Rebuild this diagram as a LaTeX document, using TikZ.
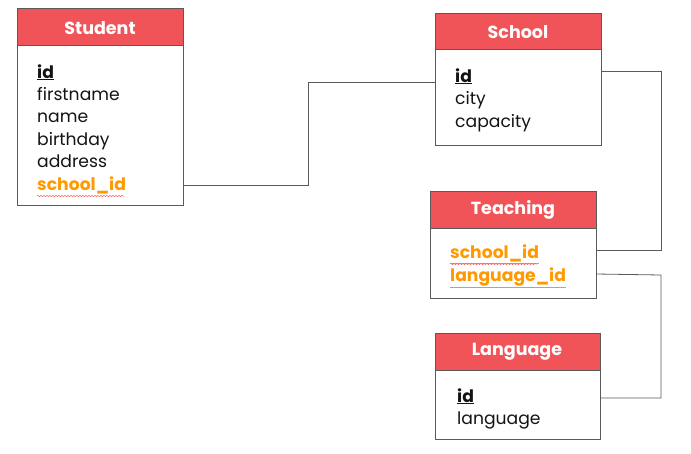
\documentclass[tikz,border=0pt]{standalone}
\usepackage{fontspec}
\setmainfont{Poppins}
\usetikzlibrary{decorations.pathmorphing}
\definecolor{hdr}{RGB}{240,84,89}
\definecolor{fk}{RGB}{255,153,0}
\definecolor{edge}{RGB}{90,90,90}
\definecolor{txt}{RGB}{20,20,20}
\tikzset{
  box/.style={draw=edge, line width=1pt, fill=white},
  head/.style={draw=edge, line width=1pt, fill=hdr},
  title/.style={text=white, font=\fontsize{17.5}{17.5}\selectfont\bfseries, anchor=center},
  field/.style={text=txt, font=\fontsize{17.2}{17.2}\selectfont, anchor=base west, inner sep=0pt},
  fkfield/.style={field, text=fk, font=\fontsize{17.2}{17.2}\selectfont\bfseries},
  link/.style={draw=edge, line width=0.8pt},
  squiggle/.style={draw=red!60, line width=0.5pt, decorate, decoration={snake, amplitude=0.7pt, segment length=3pt}}
}
\begin{document}
\begin{tikzpicture}[x=1pt,y=-1pt]
\useasboundingbox[fill=white] (0,0) rectangle (691,453);
% Student
\draw[box] (17,45) rectangle (183,205);
\draw[head] (17,8) rectangle (183,45);
\node[title] (studentT) at (100,28) {Student};
\node[field] (s1) at (37,78) {\textbf{\underline{id}}};
\node[field] (s2) at (37,100) {firstname};
\node[field] (s3) at (37,122) {name};
\node[field] (s4) at (37,145) {birthday};
\node[field] (s5) at (37,167) {address};
\node[fkfield] (s6) at (37,190) {school\_id};
\draw[squiggle] (37,196) -- (124,196);
\coordinate (sR) at (183,185);
% School
\draw[box] (435,49) rectangle (601,145);
\draw[head] (435,13) rectangle (601,49);
\node[title] (schoolT) at (518,32) {School};
\node[field] (c1) at (455,82) {\textbf{\underline{id}}};
\node[field] (c2) at (455,104) {city};
\node[field] (c3) at (455,127) {capacity};
\coordinate (cL) at (435,82);
\coordinate (cR) at (601,71);
% Teaching
\draw[box] (430,228) rectangle (596,298);
\draw[head] (430,191) rectangle (596,228);
\node[title] (teachT) at (513,210) {Teaching};
\node[fkfield] (t1) at (450,258) {\underline{school\_id}};
\node[fkfield] (t2) at (450,281) {\underline{language\_id}};
\draw[squiggle] (450,264) -- (537,264);
\coordinate (tR1) at (596,250);
\coordinate (tR2) at (596,274);
% Language
\draw[box] (435,370) rectangle (600,439);
\draw[head] (435,333) rectangle (600,370);
\node[title] (langT) at (517,352) {Language};
\node[field] (l1) at (457,402) {\textbf{\underline{id}}};
\node[field] (l2) at (457,424) {language};
\coordinate (lR) at (600,398);
% connectors
\draw[link] (sR) -- (308,185) -- (308,82) -- (cL);
\draw[link] (cR) -- (661,71) -- (661,250) -- (tR1);
\draw[link] (tR2) -- (661,275) -- (661,398) -- (lR);
\end{tikzpicture}
\end{document}
